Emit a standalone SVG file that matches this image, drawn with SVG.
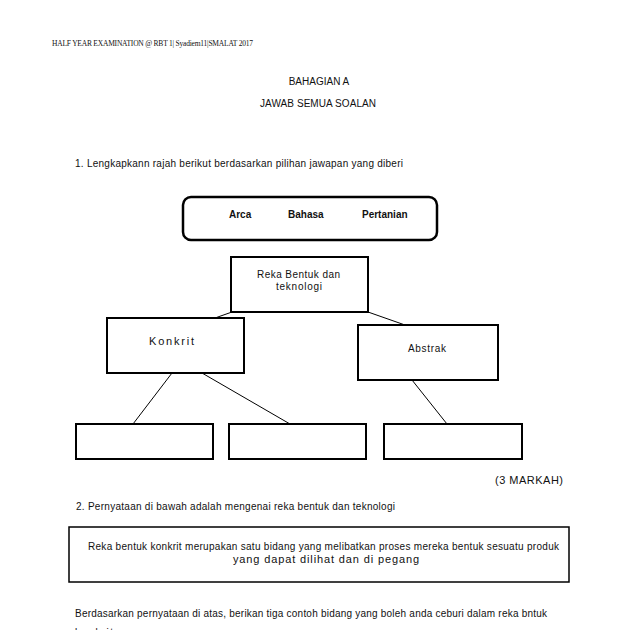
<svg xmlns="http://www.w3.org/2000/svg" width="638" height="630" viewBox="0 0 638 630">
<style>
.t{font-family:"Liberation Sans",Arial,sans-serif;font-size:10px;fill:#111}
.m{font-family:"Liberation Sans",Arial,sans-serif;font-size:11px;fill:#111}
.b{font-family:"Liberation Sans",Arial,sans-serif;font-size:10px;font-weight:bold;fill:#111}
.hd{font-family:"Liberation Serif","Times New Roman",serif;font-size:7.5px;fill:#111}
.box{fill:#fff;stroke:#000;stroke-width:2}
.thin{fill:none;stroke:#000;stroke-width:1.5}
.ln{stroke:#000;stroke-width:1;fill:none}
</style>
<rect width="638" height="630" fill="#fff"/>
<text class="hd" x="52" y="46" textLength="201" lengthAdjust="spacing">HALF YEAR EXAMINATION  @ RBT 1| Syadiem11|SMALAT  2017</text>
<text class="t" x="319" y="85" text-anchor="middle">BAHAGIAN A</text>
<text class="t" x="318" y="107" text-anchor="middle" textLength="116" lengthAdjust="spacing">JAWAB SEMUA SOALAN</text>
<text class="t" x="75" y="167" textLength="328" lengthAdjust="spacing">1. Lengkapkann rajah berikut berdasarkan pilihan jawapan yang diberi</text>

<g id="options">
<rect x="183" y="197" width="254" height="43" rx="8" ry="8" fill="#fff" stroke="#000" stroke-width="2.5"/>
<text class="b" x="229" y="218">Arca</text>
<text class="b" x="288" y="218">Bahasa</text>
<text class="b" x="362" y="218">Pertanian</text>
</g>

<g id="connectors">
<line class="ln" x1="232" y1="312" x2="215" y2="318"/>
<line class="ln" x1="368" y1="312" x2="405" y2="325"/>
<line class="ln" x1="172" y1="373" x2="133" y2="424"/>
<line class="ln" x1="202" y1="373" x2="290" y2="424"/>
<line class="ln" x1="412" y1="380" x2="447" y2="424"/>
</g>

<g id="reka">
<rect class="box" x="231" y="257" width="137" height="55"/>
<text class="t" x="298.5" y="278" text-anchor="middle" textLength="83" lengthAdjust="spacing">Reka Bentuk dan</text>
<text class="t" x="299" y="290" text-anchor="middle" textLength="46" lengthAdjust="spacing">teknologi</text>
</g>
<g id="konkrit">
<rect class="box" x="107" y="318" width="137" height="55"/>
<text class="m" x="149" y="345" textLength="45" lengthAdjust="spacing">Konkrit</text>
</g>
<g id="abstrak">
<rect class="box" x="358" y="325" width="140" height="55"/>
<text class="t" x="408" y="352" textLength="38" lengthAdjust="spacing">Abstrak</text>
</g>
<g id="blank1"><rect class="box" x="76" y="424" width="137" height="35"/></g>
<g id="blank2"><rect class="box" x="229" y="424" width="137" height="35"/></g>
<g id="blank3"><rect class="box" x="384" y="424" width="138" height="35"/></g>

<text class="m" x="495" y="484" textLength="68" lengthAdjust="spacing">(3 MARKAH)</text>
<text class="t" x="76" y="510" textLength="319" lengthAdjust="spacing">2.  Pernyataan di bawah adalah mengenai reka bentuk dan teknologi</text>

<g id="statement">
<rect class="thin" x="69" y="527" width="500" height="55"/>
<text class="t" x="323.5" y="550" text-anchor="middle" textLength="471" lengthAdjust="spacing">Reka bentuk konkrit merupakan satu bidang yang melibatkan proses mereka bentuk sesuatu produk</text>
<text class="m" x="326" y="563" text-anchor="middle" textLength="186" lengthAdjust="spacing">yang dapat dilihat dan di pegang</text>
</g>

<text class="t" x="75" y="617" textLength="472" lengthAdjust="spacing">Berdasarkan pernyataan di atas, berikan tiga contoh bidang yang boleh anda ceburi dalam reka bntuk</text>
<text class="t" x="75" y="636" textLength="38" lengthAdjust="spacing">konkrit</text>
</svg>
